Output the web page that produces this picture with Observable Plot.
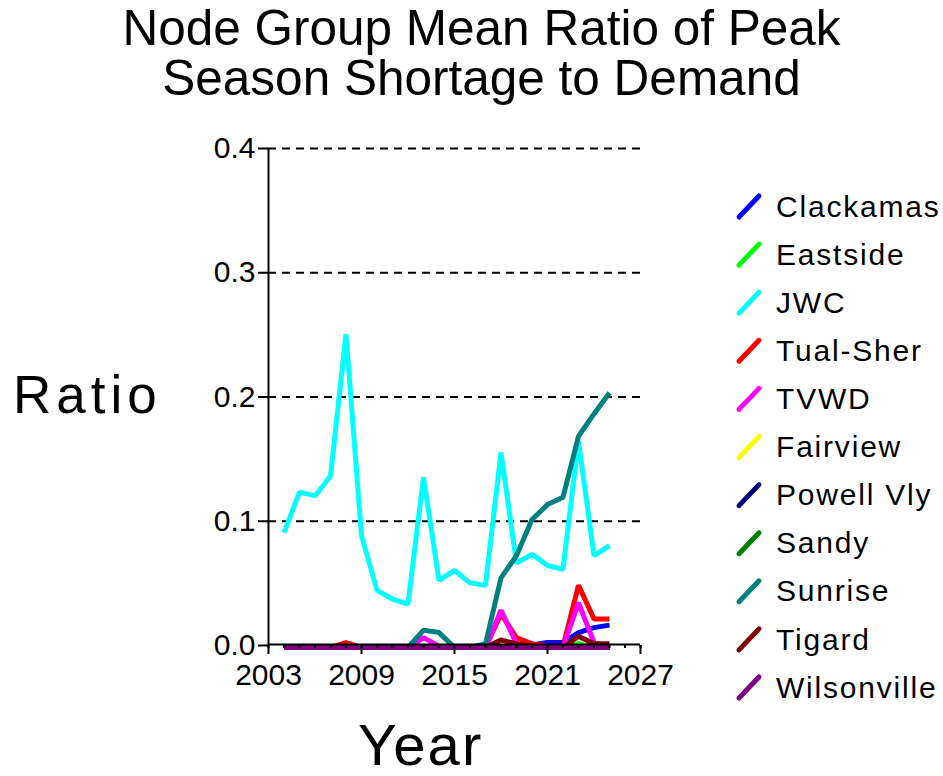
<!DOCTYPE html>
<html>
<head>
<meta charset="utf-8">
<script src="https://cdn.jsdelivr.net/npm/d3@7"></script>
<script src="https://cdn.jsdelivr.net/npm/@observablehq/plot@0.6"></script>
<style>
  html, body { margin: 0; padding: 0; background: #fff; }
  #wrap { position: relative; width: 943px; height: 776px; overflow: hidden; font-family: "Liberation Sans", Arial, sans-serif; color: #000; }
  #wrap svg.plot { position: absolute; left: 0; top: 0; }
  .lbl { position: absolute; line-height: 0; white-space: nowrap; }
  #title { position: absolute; left: 0; top: 3px; width: 963px; text-align: center; font-size: 49.5px; line-height: 50px; }
  .leg { position: absolute; left: 0; top: 0; }
</style>
</head>
<body>
<div id="wrap">
  <div id="title">Node Group Mean Ratio of Peak<br>Season Shortage to Demand</div>
</div>
<script>
// ---- data ----
const years = [2004, 2005, 2006, 2007, 2008, 2009, 2010, 2011, 2012, 2013, 2014,
               2015, 2016, 2017, 2018, 2019, 2020, 2021, 2022, 2023, 2024, 2025];

const clackamas   = [0, 0, 0, 0, 0, 0, 0, 0, 0, 0, 0, 0, 0, 0, 0, 0, 0.002, 0.004, 0.004, 0.012, 0.016, 0.018];
const eastside    = [0, 0, 0, 0, 0, 0, 0, 0, 0, 0, 0, 0, 0, 0, 0, 0, 0, 0, 0, 0.003, 0, 0];
const jwc         = [0.0925, 0.125, 0.122, 0.138, 0.252, 0.09, 0.046, 0.039, 0.035, 0.137, 0.054,
                     0.062, 0.052, 0.05, 0.157, 0.068, 0.075, 0.066, 0.063, 0.166, 0.074, 0.082];
const tualSher    = [0, 0, 0, 0, 0.004, 0, 0, 0, 0, 0, 0, 0, 0, 0, 0.027, 0.008, 0.003, 0.001, 0.001, 0.05, 0.023, 0.023];
const tvwd        = [0, 0, 0, 0, 0, 0, 0, 0, 0, 0.008, 0.001, 0, 0, 0, 0.03, 0.003, 0, 0, 0, 0.036, 0.004, 0];
const fairview    = [0, 0, 0, 0, 0, 0, 0, 0, 0, 0, 0, 0, 0, 0, 0, 0, 0, 0, 0, 0, 0, 0];
const powellVly   = [0, 0, 0, 0, 0, 0, 0, 0, 0, 0, 0, 0, 0, 0, 0, 0, 0, 0, 0, 0, 0, 0];
const sandy       = [0, 0, 0, 0, 0, 0, 0, 0, 0, 0, 0, 0, 0, 0, 0, 0, 0, 0, 0, 0, 0, 0];
const sunrise     = [0, 0, 0, 0, 0, 0, 0, 0, 0, 0.014, 0.012, 0, 0, 0.003, 0.056, 0.074, 0.103, 0.115, 0.121, 0.17, 0.188, 0.205];
const tigard      = [0, 0, 0, 0, 0, 0, 0, 0, 0, 0, 0, 0, 0, 0, 0.006, 0.003, 0.001, 0, 0, 0.009, 0.003, 0.003];
const wilsonville = [0, 0, 0, 0, 0, 0, 0, 0, 0, 0, 0, 0, 0, 0, 0, 0, 0, 0, 0, 0, 0, 0];

const seriesNames  = ["Clackamas", "Eastside", "JWC", "Tual-Sher", "TVWD", "Fairview",
                      "Powell Vly", "Sandy", "Sunrise", "Tigard", "Wilsonville"];
const seriesValues = [clackamas, eastside, jwc, tualSher, tvwd, fairview,
                      powellVly, sandy, sunrise, tigard, wilsonville];
const seriesColors = ["#0000ff", "#00ff00", "#00ffff", "#ff0000", "#ff00ff", "#ffff00",
                      "#000080", "#008000", "#008080", "#800000", "#800080"];

const yTicks = [0, 0.1, 0.2, 0.3, 0.4];
const gridTicks = [0.1, 0.2, 0.3, 0.4];
const xTicks = [2003, 2009, 2015, 2021, 2027];
const xMinorTicks = d3.range(2003, 2028);

// ---- table for Plot ----
const rows = [];
seriesNames.forEach((name, i) => {
  years.forEach((yr, j) => rows.push({series: name, year: yr, value: seriesValues[i][j]}));
});

const W = 943, H = 776;
const chart = Plot.plot({
  width: W,
  height: H,
  marginLeft: 268,
  marginRight: 303,
  marginTop: 148,
  marginBottom: 131,
  style: {fontFamily: "Liberation Sans, Arial, sans-serif", fontSize: "30px", color: "#000", background: "transparent", overflow: "visible"},
  x: {domain: [2003, 2027], axis: null},
  y: {domain: [0, 0.4], axis: null},
  color: {domain: seriesNames, range: seriesColors},
  marks: [
    Plot.ruleY(gridTicks, {stroke: "#000", strokeWidth: 2, strokeDasharray: "8,6"}),
    Plot.line(rows, {x: "year", y: "value", z: "series", stroke: "series", strokeWidth: 5, strokeLinejoin: "miter", strokeLinecap: "butt", dy: 2}),
    Plot.ruleX([2003], {stroke: "#000", strokeWidth: 2}),
    Plot.ruleY([0], {stroke: "#000", strokeWidth: 2, dy: -1}),
    Plot.axisY({ticks: yTicks, tickSize: 10, tickPadding: 3, tickFormat: d3.format(".1f"), label: null, fontSize: 30, stroke: "#000", strokeWidth: 2, fill: "#000", style: "letter-spacing:2.5px"}),
    Plot.axisX({ticks: xMinorTicks, tickSize: 3, tickFormat: () => "", label: null, stroke: "#000", strokeWidth: 2}),
    Plot.axisX({ticks: xTicks, tickSize: 9, tickPadding: 9, tickFormat: d => String(d), label: null, fontSize: 30, stroke: "#000", strokeWidth: 2, fill: "#000", style: "letter-spacing:1.5px"})
  ]
});
chart.classList.add("plot");
const wrap = document.getElementById("wrap");
wrap.appendChild(chart);

// ---- axis titles ----
function addLabel(text, left, baseline, size, spacing) {
  const d = document.createElement("div");
  d.className = "lbl";
  d.textContent = text;
  d.style.left = left + "px";
  d.style.top = (baseline - 0.3465 * size) + "px";
  d.style.fontSize = size + "px";
  d.style.letterSpacing = spacing + "px";
  wrap.appendChild(d);
}
addLabel("Ratio", 13, 413, 53, 5);
addLabel("Year", 358, 765, 58, 2);

// ---- legend ----
const legSvg = d3.create("svg").attr("class", "leg").attr("width", W).attr("height", H);
seriesNames.forEach((name, i) => {
  const cy = 206 + i * 48.1;
  legSvg.append("line")
    .attr("x1", 739).attr("y1", cy + 11).attr("x2", 759).attr("y2", cy - 10)
    .attr("stroke", seriesColors[i]).attr("stroke-width", 5).attr("stroke-linecap", "round");
});
wrap.appendChild(legSvg.node());
seriesNames.forEach((name, i) => {
  const cy = 206 + i * 48.1;
  addLabel(name, 776, cy + 11, 30, 1.8);
});
</script>
</body>
</html>
